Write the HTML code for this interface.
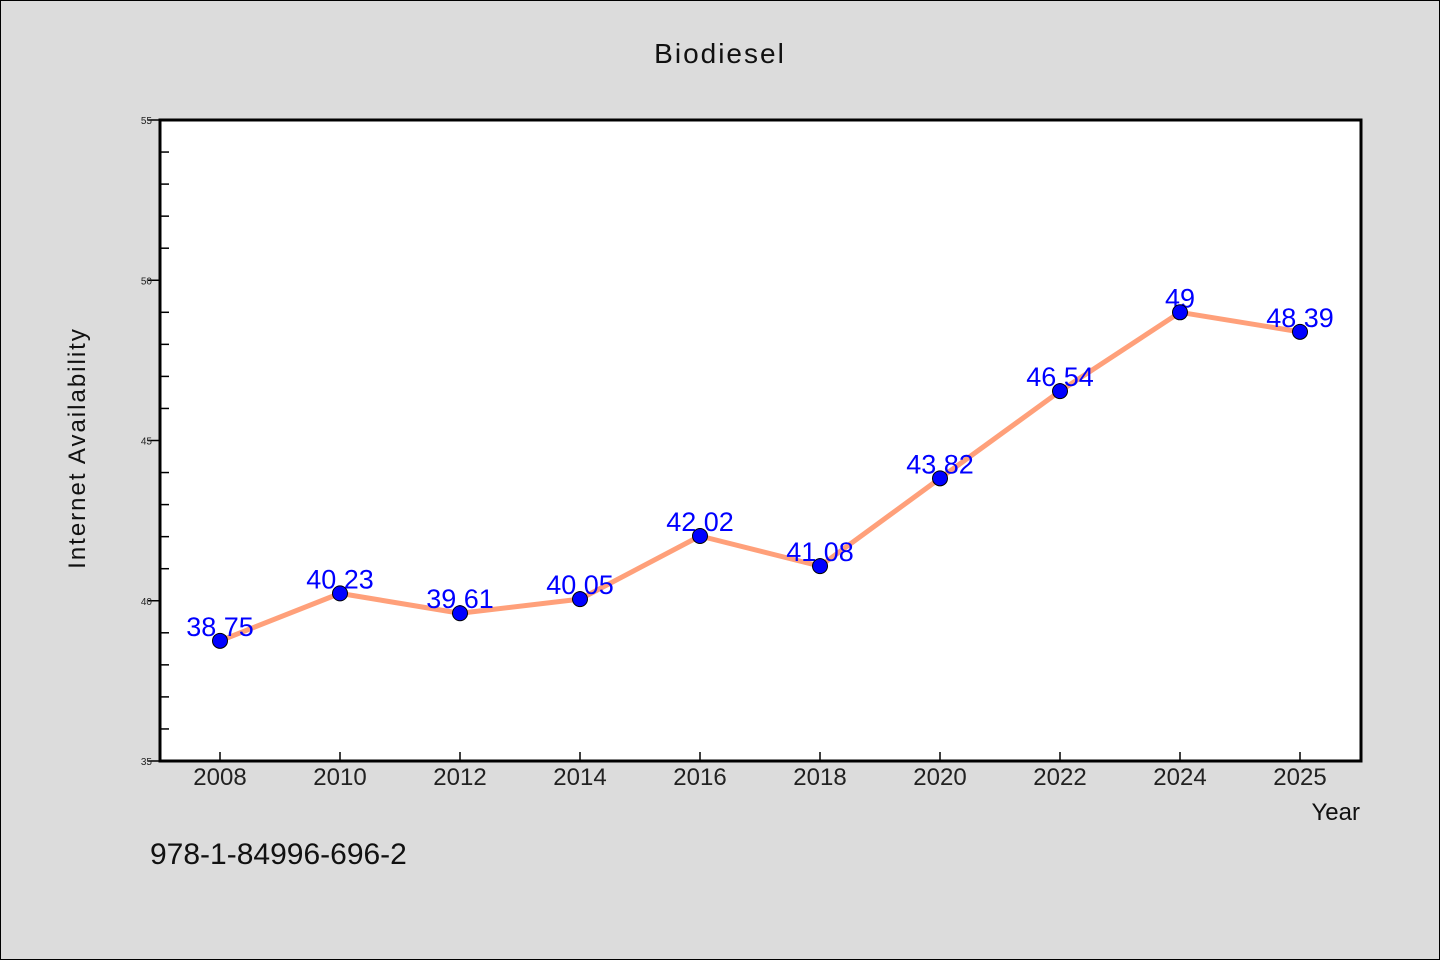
<!DOCTYPE html>
<html><head><meta charset="utf-8"><style>
body{margin:0;background:#dcdcdc;}
svg{display:block;font-family:"Liberation Sans","DejaVu Sans",sans-serif;}
</style></head><body>
<svg width="1440" height="960">
<rect x="0.5" y="0.5" width="1439" height="959" fill="#dcdcdc" stroke="#000"/>
<text x="720" y="63" text-anchor="middle" font-size="28" letter-spacing="2" fill="#111">Biodiesel</text>
<rect x="160" y="120" width="1201" height="641" fill="#fff"/>
<g id="axes"></g>
<g id="marks"></g>
<rect x="160" y="120" width="1201" height="641" fill="none" stroke="#000" stroke-width="3"/>
<text x="85" y="448" transform="rotate(-90 85 448)" text-anchor="middle" font-size="24" letter-spacing="2" fill="#111">Internet Availability</text>
<text x="1360" y="820" text-anchor="end" font-size="24" fill="#111">Year</text>
<text x="150" y="864" font-size="30" fill="#111">978-1-84996-696-2</text>
</svg>
<script>
const categories=["2008","2010","2012","2014","2016","2018","2020","2022","2024","2025"];
const values=[38.75,40.23,39.61,40.05,42.02,41.08,43.82,46.54,49,48.39];
const yTicks=[35,40,45,50,55];
const NS="http://www.w3.org/2000/svg";
const x0=160,x1=1361,yTop=120,yBot=761,yMin=35,yMax=55;
const xs=i=>220+i*(1080/(categories.length-1));
const ys=v=>yBot-(v-yMin)/(yMax-yMin)*(yBot-yTop);
function mk(t,a,p){const e=document.createElementNS(NS,t);for(const k in a)e.setAttribute(k,a[k]);p.appendChild(e);return e;}
const ax=document.getElementById('axes'),mg=document.getElementById('marks');
yTicks.forEach(v=>{
 const l=mk('line',{x1:148,x2:160,y1:ys(v),y2:ys(v),stroke:'#000','stroke-width':1.5},ax);
 
 
 const t=mk('text',{x:152,y:ys(v)+4,'text-anchor':'end','font-size':10,fill:'#222'},ax);t.textContent=v;
 
 
});
for(let v=yMin+1;v<yMax;v++){if(v%5===0)continue;
 const l=mk('line',{x1:160,x2:169,y1:ys(v),y2:ys(v),stroke:'#000','stroke-width':1.5},ax);
 
 
}
categories.forEach((c,i)=>{
 const l=mk('line',{x1:xs(i),x2:xs(i),y1:752,y2:761,stroke:'#000','stroke-width':1.5},ax);
 
 
 const t=mk('text',{x:xs(i),y:785,'text-anchor':'middle','font-size':24,fill:'#222'},ax);t.textContent=c;
 
 
});
const pl=mk('polyline',{points:values.map((v,i)=>xs(i)+','+ys(v)).join(' '),fill:'none',stroke:'#ffa07a','stroke-width':5,'stroke-linejoin':'round'},mg);


values.forEach((v,i)=>{
 const t=mk('text',{x:xs(i),y:ys(v)-5,'text-anchor':'middle','font-size':27,fill:'#0000ff'},mg);t.textContent=v;
 
 
 const c=mk('circle',{cx:xs(i),cy:ys(v),r:7.5,fill:'#0000ff',stroke:'#000','stroke-width':1},mg);
 
 
});
</script>
</body></html>
